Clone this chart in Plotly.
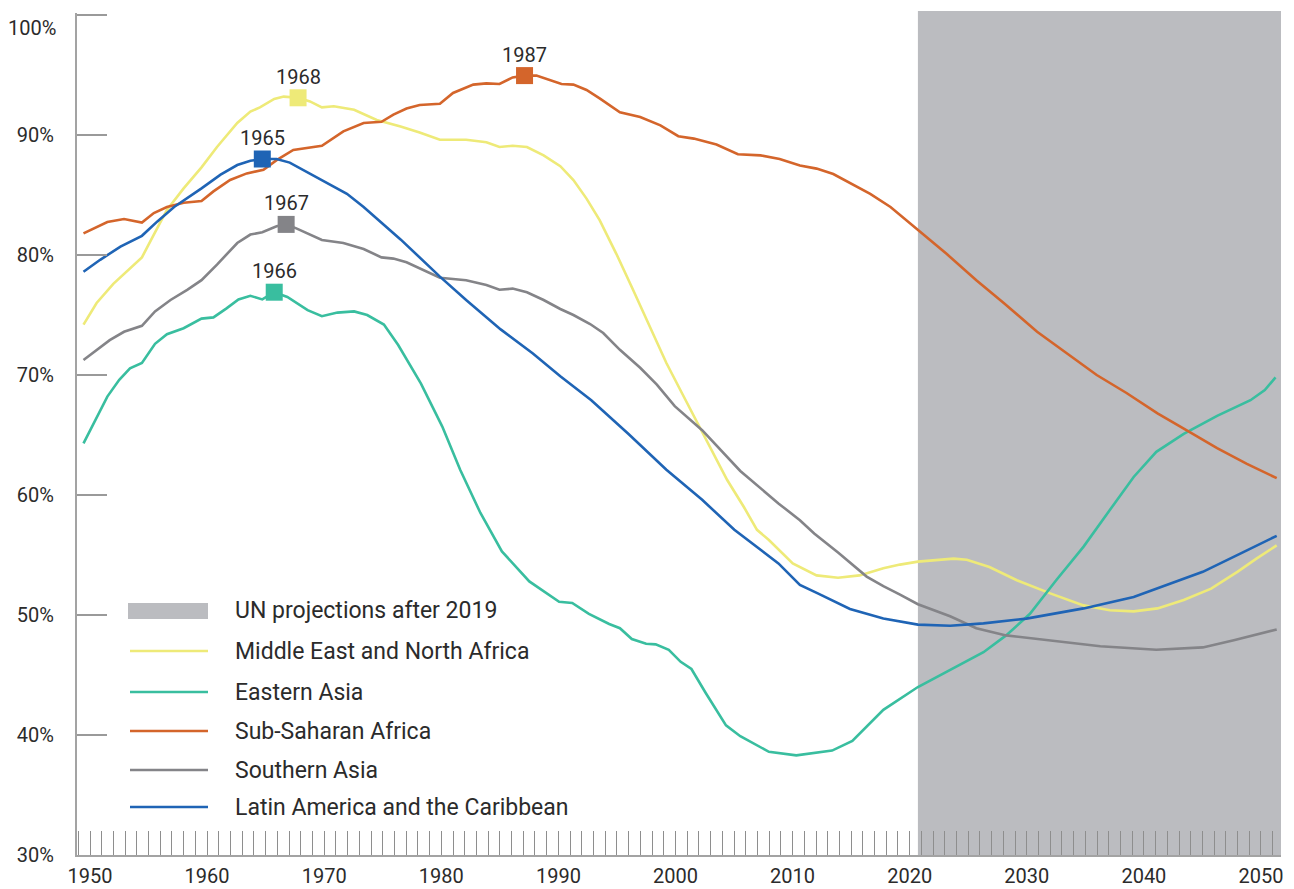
import plotly.graph_objects as go

# Share of population (%) by region, 1950-2050 (UN estimates and projections)
years_mena = [1950, 1951.1, 1952.5, 1953.9, 1954.9, 1955.9, 1957, 1958.4, 1959.9, 1961.2,
              1962.9, 1964, 1964.8, 1966, 1966.8, 1968, 1969, 1970, 1971, 1972.7,
              1974.6, 1976.6, 1978.2, 1979.9, 1982.1, 1983.8, 1984.9, 1986, 1987.2, 1988.6,
              1990, 1991.1, 1992.2, 1993.3, 1994.7, 1996.1, 1997.5, 1998.9, 2000.2, 2001.8,
              2004, 2005.4, 2006.5, 2007.5, 2009.5, 2011.5, 2013.3, 2015.1, 2017.1, 2018.5,
              2020, 2023, 2024.1, 2026, 2028.3, 2031.1, 2033.9, 2036.1, 2038.1, 2040.1,
              2042.3, 2044.6, 2046.8, 2048.4, 2050.1]
share_mena = [74.2, 76.0, 77.6, 78.9, 79.8, 81.7, 83.75, 85.55, 87.3, 89.0,
              91.0, 91.95, 92.3, 93.0, 93.2, 93.1, 92.8, 92.3, 92.4, 92.1,
              91.25, 90.7, 90.2, 89.6, 89.6, 89.4, 89.0, 89.1, 89.0, 88.3,
              87.4, 86.25, 84.7, 82.9, 80.1, 77.1, 74.0, 71.0, 68.5, 65.4,
              61.25, 59.0, 57.1, 56.25, 54.3, 53.3, 53.1, 53.3, 53.9, 54.2,
              54.45, 54.7, 54.6, 54.0, 52.9, 51.8, 50.8, 50.4, 50.3, 50.55,
              51.25, 52.2, 53.6, 54.7, 55.8]

years_east_asia = [1950, 1950.9, 1952, 1953, 1953.9, 1954.9, 1956, 1957, 1958.4, 1959.9,
                   1960.9, 1962, 1963, 1964, 1965, 1966, 1967.1, 1968.8, 1970, 1971.3,
                   1972.7, 1973.8, 1975.2, 1976.4, 1978.3, 1980.1, 1981.6, 1983.3, 1985.1, 1987.4,
                   1989.9, 1991, 1992.4, 1994.1, 1995, 1996, 1997.2, 1998, 1999.1, 2000.1,
                   2001, 2002.2, 2003.9, 2005.1, 2007.5, 2009.8, 2012.8, 2014.5, 2017.1, 2020,
                   2022.7, 2025.5, 2027.4, 2029.4, 2031.6, 2033.9, 2036.1, 2038.1, 2040, 2042.3,
                   2045.1, 2047.9, 2049.1, 2050]
share_east_asia = [64.3, 66.0, 68.2, 69.6, 70.55, 71.0, 72.6, 73.4, 73.9, 74.7,
                   74.8, 75.55, 76.3, 76.6, 76.3, 76.9, 76.5, 75.4, 74.9, 75.2,
                   75.3, 75.0, 74.2, 72.5, 69.3, 65.7, 62.1, 58.5, 55.3, 52.8,
                   51.1, 51.0, 50.1, 49.25, 48.9, 48.0, 47.6, 47.55, 47.1, 46.1,
                   45.5, 43.5, 40.8, 39.9, 38.6, 38.3, 38.7, 39.5, 42.1, 44.0,
                   45.4, 46.9, 48.3, 50.1, 52.9, 55.7, 58.75, 61.5, 63.6, 65.1,
                   66.6, 67.9, 68.75, 69.8]

years_ssa = [1950, 1952, 1953.4, 1954.9, 1955.9, 1957, 1958.4, 1959.9, 1960.9, 1962.3,
             1963.7, 1965.1, 1966.2, 1967.6, 1970, 1971.8, 1973.5, 1975, 1976, 1977.1,
             1978.2, 1979.9, 1981, 1982.7, 1983.8, 1984.9, 1986, 1987, 1988, 1989.1,
             1990.1, 1991.1, 1992.2, 1993.3, 1995, 1996.7, 1998.4, 1999.9, 2001.2, 2003.1,
             2004.9, 2006.8, 2008.4, 2010.1, 2011.5, 2012.9, 2014.3, 2016, 2017.7, 2020,
             2022.4, 2024.9, 2027.2, 2030, 2032.5, 2035, 2037.5, 2040.1, 2042.7, 2045.1,
             2047.6, 2050.1]
share_ssa = [81.8, 82.75, 83.0, 82.7, 83.5, 84.0, 84.35, 84.5, 85.3, 86.25,
             86.8, 87.1, 87.9, 88.75, 89.1, 90.3, 91.0, 91.1, 91.7, 92.2,
             92.5, 92.6, 93.5, 94.2, 94.3, 94.25, 94.8, 94.95, 94.95, 94.6,
             94.25, 94.2, 93.75, 93.05, 91.9, 91.5, 90.8, 89.9, 89.7, 89.2,
             88.4, 88.3, 88.0, 87.45, 87.2, 86.75, 86.0, 85.1, 84.0, 82.1,
             80.1, 77.9, 76.0, 73.6, 71.8, 70.0, 68.5, 66.8, 65.3, 63.9,
             62.6, 61.4]

years_south_asia = [1950, 1951.1, 1952.2, 1953.4, 1954.9, 1956, 1957.3, 1958.7, 1959.9, 1961.2,
                    1962.9, 1964, 1965, 1966.2, 1967, 1967.9, 1970, 1971.8, 1973.5, 1975,
                    1976, 1977.1, 1979.9, 1982.1, 1983.8, 1984.9, 1986, 1987.2, 1988.6, 1990,
                    1991.1, 1992.5, 1993.6, 1995, 1996.7, 1998.1, 1999.6, 2001.9, 2005.1, 2008.3,
                    2010.1, 2011.3, 2013.3, 2015.7, 2017.1, 2018.5, 2020, 2022.7, 2024.9, 2027.4,
                    2031.1, 2035.3, 2040, 2043.9, 2046.5, 2050.1]
share_south_asia = [71.25, 72.1, 72.9, 73.6, 74.1, 75.3, 76.25, 77.1, 77.9, 79.2,
                    81.0, 81.7, 81.9, 82.4, 82.55, 82.2, 81.25, 81.0, 80.5, 79.8,
                    79.7, 79.4, 78.1, 77.9, 77.5, 77.1, 77.2, 76.9, 76.25, 75.5,
                    75.0, 74.25, 73.5, 72.1, 70.6, 69.2, 67.4, 65.4, 62.0, 59.3,
                    57.9, 56.8, 55.2, 53.2, 52.4, 51.7, 50.9, 49.9, 48.9, 48.3,
                    47.9, 47.4, 47.1, 47.3, 47.9, 48.8]

years_latam = [1950, 1951.4, 1953.1, 1954.9, 1956.2, 1957.6, 1959.9, 1961.5, 1962.9, 1964,
               1965, 1966.2, 1967.3, 1969, 1970.4, 1972.1, 1973.5, 1974.9, 1976.6, 1979.9,
               1982.1, 1985, 1987.7, 1990, 1992.6, 1995.7, 1998.9, 2001.9, 2004.6, 2008.3,
               2010.1, 2011.6, 2014.3, 2017.1, 2020, 2022.7, 2025.5, 2029.1, 2033.9, 2038.1,
               2040.9, 2043.9, 2047, 2050.1]
share_latam = [78.6, 79.6, 80.7, 81.6, 82.8, 84.0, 85.55, 86.7, 87.5, 87.85,
               88.0, 88.0, 87.7, 86.8, 86.0, 85.1, 84.0, 82.8, 81.3, 78.2,
               76.25, 73.8, 71.8, 69.9, 67.9, 65.1, 62.1, 59.6, 57.1, 54.3,
               52.5, 51.8, 50.5, 49.7, 49.2, 49.1, 49.3, 49.7, 50.55, 51.5,
               52.5, 53.6, 55.1, 56.6]

# Year in which each region peaked
peak_mena = 1968
peak_east_asia = 1966
peak_ssa = 1987
peak_south_asia = 1967
peak_latam = 1965

projection_start = 2020
projection_label = "UN projections after 2019"

y_tick_values = [30, 40, 50, 60, 70, 80, 90, 100]
x_tick_values = [1950, 1960, 1970, 1980, 1990, 2000, 2010, 2020, 2030, 2040, 2050]

series = [
    ("Middle East and North Africa", years_mena, share_mena, peak_mena, "#EEEA78"),
    ("Eastern Asia", years_east_asia, share_east_asia, peak_east_asia, "#39BE9F"),
    ("Sub-Saharan Africa", years_ssa, share_ssa, peak_ssa, "#D4652B"),
    ("Southern Asia", years_south_asia, share_south_asia, peak_south_asia, "#848488"),
    ("Latin America and the Caribbean", years_latam, share_latam, peak_latam, "#1F64B5"),
]

# Page geometry
W, H = 1294, 889
ML, MR, MT, MB = 77, 13, 13, 34
PW, PH = W - ML - MR, H - MT - MB
FONT = "Roboto, 'Open Sans', sans-serif"
TEXT = "#2b2b2b"
AXIS = "#a3a3a3"
TICK = "#8e8e8e"
SHADE = "#BBBCC0"


def px_to_paper(px, py):
    return (px - ML) / PW, (H - MB - py) / PH


fig = go.Figure()

for name, xs, ys, peak, color in series:
    fig.add_trace(go.Scatter(x=xs, y=ys, mode="lines", name=name,
                             line=dict(color=color, width=2.6), showlegend=False))

# Peak markers with year labels
for name, xs, ys, peak, color in series:
    py = ys[xs.index(peak)]
    fig.add_trace(go.Scatter(x=[peak], y=[py], mode="markers", showlegend=False,
                             marker=dict(symbol="square", size=17, color=color,
                                         line=dict(width=0))))
    fig.add_annotation(x=peak, y=py, text=str(peak), showarrow=False, yshift=21,
                       font=dict(family=FONT, size=20, color=TEXT))

# Year scale carrying the decade labels and yearly ticks
fig.add_trace(go.Scatter(x=[x_tick_values[0], x_tick_values[-1]], y=[None, None],
                         xaxis="x2", mode="lines", showlegend=False, hoverinfo="skip"))

# Projection period shading
x_min, x_max = 1949.455, 2050.46
fig.add_shape(type="rect", xref="x", yref="paper", x0=projection_start, x1=x_max,
              y0=0, y1=1.0025, fillcolor=SHADE, line=dict(width=0), layer="below")

# Hand-built legend (long line swatches)
legend_rows = [(611, projection_label, None)] + [
    (py, s[0], s[4]) for py, s in zip([651, 692, 731, 770, 807], series)]
for py, label, color in legend_rows:
    x0, y0 = px_to_paper(128, py)
    x1, _ = px_to_paper(208, py)
    if color is None:
        _, yt = px_to_paper(128, py - 8)
        _, yb = px_to_paper(128, py + 8)
        fig.add_shape(type="rect", xref="paper", yref="paper", x0=x0, x1=x1,
                      y0=yb, y1=yt, fillcolor=SHADE, line=dict(width=0))
    else:
        fig.add_shape(type="line", xref="paper", yref="paper", x0=x0 + 2 / PW, x1=x1,
                      y0=y0, y1=y0, line=dict(color=color, width=2.6))
    tx, ty = px_to_paper(233, py)
    fig.add_annotation(xref="paper", yref="paper", x=tx, y=ty, text=label,
                       showarrow=False, xanchor="left", yanchor="middle",
                       font=dict(family=FONT, size=23, color=TEXT))

# Top label sits just below its tick
fig.add_annotation(xref="paper", yref="y", x=0, y=100, text="100%", showarrow=False,
                   xanchor="right", yanchor="middle", xshift=-19, yshift=-13,
                   font=dict(family=FONT, size=20, color=TEXT))

fig.update_layout(
    width=W, height=H,
    margin=dict(l=ML, r=MR, t=MT, b=MB, pad=0),
    paper_bgcolor="white", plot_bgcolor="white",
    font=dict(family=FONT, size=20, color=TEXT),
    showlegend=False,
    xaxis=dict(range=[x_min, x_max], showticklabels=False, ticks="",
               showline=False, showgrid=False, zeroline=False, automargin=False),
    xaxis2=dict(overlaying="x", anchor="y", side="bottom",
                range=[1948.89, 2051.71], tickvals=x_tick_values,
                ticktext=[str(v) for v in x_tick_values],
                ticks="inside", ticklen=24, tickwidth=1, tickcolor=TICK,
                minor=dict(dtick=1, tick0=1950, ticks="inside", ticklen=24,
                           tickwidth=1, tickcolor=TICK, showgrid=False),
                showline=True, linecolor=AXIS, linewidth=2, showgrid=False,
                zeroline=False, ticklabelstandoff=2, automargin=False,
                tickfont=dict(family=FONT, size=20, color=TEXT)),
    yaxis=dict(range=[30, 100 + 2 / 12], tickvals=y_tick_values,
               ticktext=[f"{v}%" if v < 100 else "" for v in y_tick_values],
               ticks="inside", ticklen=30, tickwidth=1.5, tickcolor="#9a9a9a",
               showline=True, linecolor=AXIS, linewidth=2, showgrid=False,
               zeroline=False, ticklabelstandoff=17, automargin=False,
               tickfont=dict(family=FONT, size=20, color=TEXT)),
)

fig.write_html("out.html")
